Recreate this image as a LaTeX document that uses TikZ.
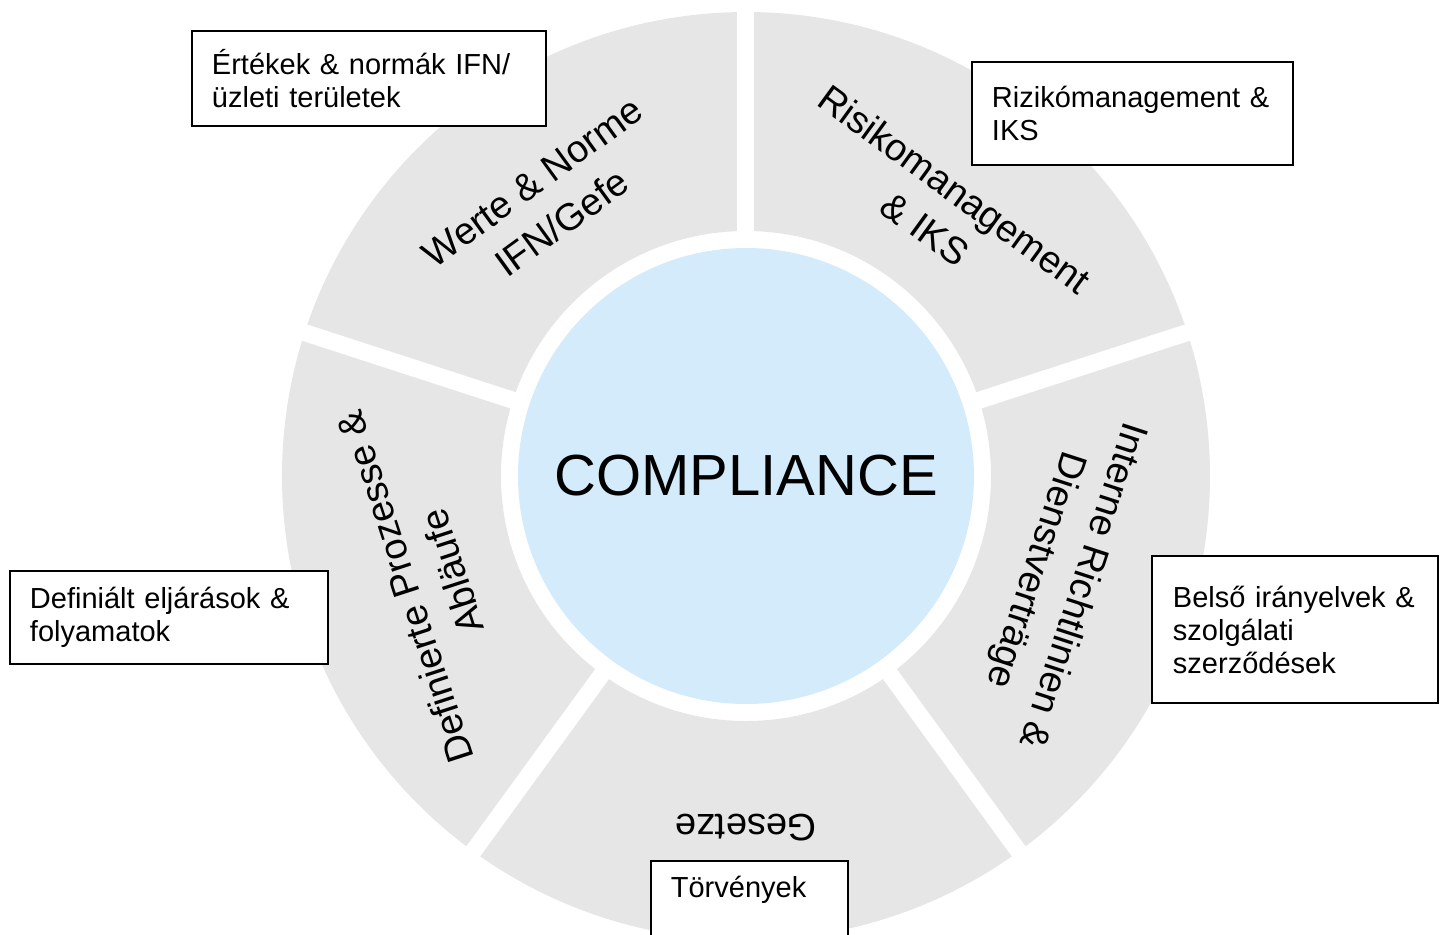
\documentclass[tikz,border=0pt]{standalone}
\usepackage{fontspec}
\setmainfont{Liberation Sans}
\usepackage{tikz}

\definecolor{ringgray}{RGB}{230,230,230}
\definecolor{coreblue}{RGB}{211,235,250}
\tikzset{
    seglabel/.style={align=center, inner sep=0pt, font=\fontsize{19}{25}\selectfont},
    hubox/.style={draw=black, line width=0.9pt, fill=white, align=left, inner xsep=10pt, inner ysep=0pt, font=\fontsize{14.5}{16.5}\selectfont}
}

\begin{document}
\begin{tikzpicture}[x=0.5pt, y=0.5pt]
    \useasboundingbox (-746,-458) rectangle (696,476);
    \fill [ringgray, even odd rule] (0,0) circle [radius=464] (0,0) circle [radius=245];
    \foreach \a in {18,90,162,234,306}
        \draw [white, line width=8.5pt] (0,0) -- (\a:480);
    \fill [coreblue] (0,0) circle [radius=228];
    \node (core) at (0,0) {\fontsize{29}{34}\selectfont COMPLIANCE};

    \node [seglabel, rotate=36] (werte) at (126:338) {Werte \& Norme\\IFN/Gefe};
    \node [seglabel, rotate=-36] (risiko) at (54:330) {Risikomanagement\\\& IKS};
    \node [seglabel, rotate=-108] (interne) at (-18:328) {Interne Richtlinien \&\\Dienstverträge};
    \node [seglabel, rotate=180] (gesetze) at (-90:352) {Gesetze};
    \node [seglabel, rotate=108] (prozesse) at (198:334) {Definierte Prozesse \&\\Abläufe};

    \node [hubox, text width=157pt, minimum height=47.5pt] (ertekek) at (-377,397.5) {Értékek \& normák IFN/\\üzleti területek};
    \node [hubox, text width=140.5pt, minimum height=51.5pt] (rizikok) at (386.5,362.5) {Rizikómanagement \&\\IKS};
    \node [hubox, text width=139pt, minimum height=46.5pt] (definialt) at (-577,-141.5) {Definiált eljárások \&\\folyamatok};
    \node [hubox, text width=122pt, minimum height=73.5pt, inner xsep=10.5pt] (belso) at (549,-153.5) {Belső irányelvek \&\\szolgálati\\szerződések};
    \node [hubox, text width=78.5pt, text height=18.5pt, text depth=31.5pt, anchor=north west] (torvenyek) at (-96,-384) {Törvények};
\end{tikzpicture}
\end{document}
